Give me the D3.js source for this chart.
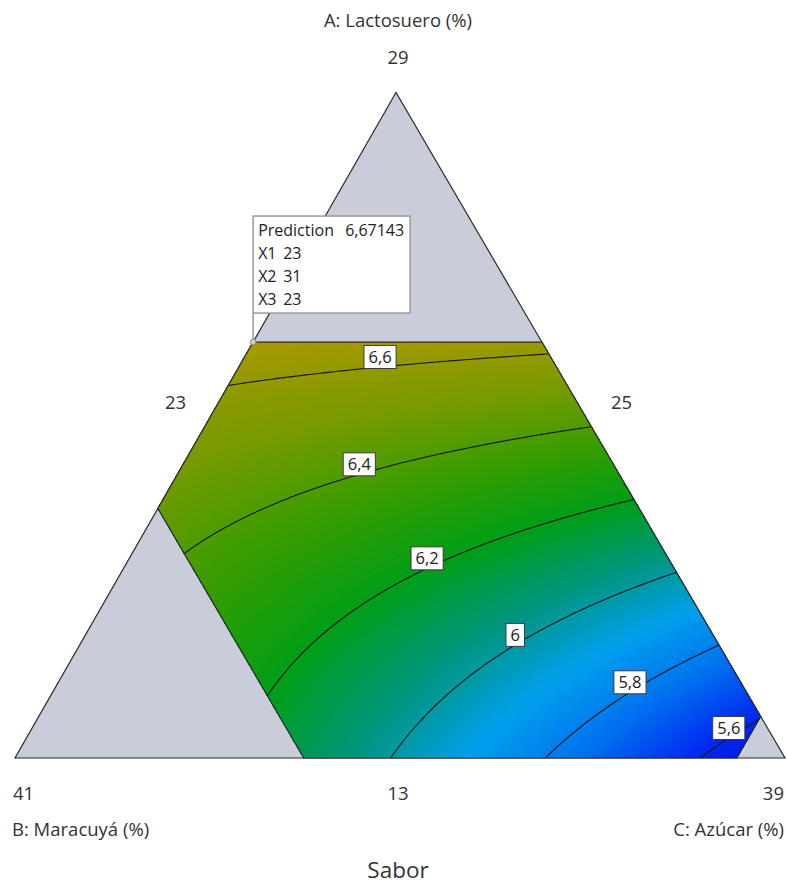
<!DOCTYPE html>
<html>
<head>
<meta charset="utf-8">
<script src="https://cdn.jsdelivr.net/npm/d3@7"></script>
<style>
  html, body { margin: 0; padding: 0; background: #fff; }
  svg { display: block; font-family: "Open Sans", "Noto Sans", sans-serif; }
</style>
</head>
<body>
<svg id="chart" width="787" height="884"></svg>
<script>
// ---- Mixture components (actual units, %) ----
const componentNames = ["A: Lactosuero (%)", "B: Maracuyá (%)", "C: Azúcar (%)"];
const componentLow = [13, 25, 23];
const componentHigh = [29, 41, 39];
// Upper limits that bound the experimental region
const componentLimit = [23, 35, 38];

// ---- Scheffé quadratic model in pseudo-components ----
const modelTerms = ["A", "B", "C", "AB", "AC", "BC"];
const modelCoefficients = [7.318, 6.486, 5.490, -1.4275, 0, 0];

// ---- Contours ----
const contourLevels = [5.6, 5.8, 6.0, 6.2, 6.4, 6.6];
// Lactosuero level (%) where each contour carries its label
const labelLactosuero = [13.48, 14.58, 15.72, 17.56, 19.82, 22.40];

// ---- Flagged point (X1, X2, X3) ----
const flagPoint = [23, 31, 23];
const flagNames = ["X1", "X2", "X3"];
const responseName = "Sabor";

// ------------------------------------------------------------------
const svg = d3.select("#chart");
const locale = d3.formatLocale({ decimal: ",", thousands: ".", grouping: [3], currency: ["", "€"] });
const fmtLevel = locale.format(".2~f");
const fmtPred = locale.format(".5f");
const fmtInt = locale.format("d");

const total = componentHigh[0] + componentLow[1] + componentLow[2];

// triangle vertices in pixels (A top, B bottom-left, C bottom-right)
const vA = [396, 92.5], vB = [15, 758], vC = [785, 758];

// actual -> pseudo-component scales
const pseudo = componentLow.map((lo, i) => d3.scaleLinear().domain([lo, componentHigh[i]]).range([0, 1]));

function projectPseudo(a, b, c) {
  return [a * vA[0] + b * vB[0] + c * vC[0], a * vA[1] + b * vB[1] + c * vC[1]];
}
function project(comp) {
  return projectPseudo(pseudo[0](comp[0]), pseudo[1](comp[1]), pseudo[2](comp[2]));
}
const det = (vB[1] - vC[1]) * (vA[0] - vC[0]) + (vC[0] - vB[0]) * (vA[1] - vC[1]);
function unproject(x, y) {
  const a = ((vB[1] - vC[1]) * (x - vC[0]) + (vC[0] - vB[0]) * (y - vC[1])) / det;
  const b = ((vC[1] - vA[1]) * (x - vC[0]) + (vA[0] - vC[0]) * (y - vC[1])) / det;
  return [a, b, 1 - a - b];
}
function model(a, b, c) {
  const k = modelCoefficients;
  return k[0] * a + k[1] * b + k[2] * c + k[3] * a * b + k[4] * a * c + k[5] * b * c;
}

// ---- colour ramp (blue = low, olive = high) ----
const color = d3.scaleLinear()
  .domain([5.50, 5.62, 5.75, 5.90, 6.05, 6.20, 6.35, 6.50, 6.70])
  .range(["rgb(0,12,225)", "rgb(0,45,240)", "rgb(0,110,240)", "rgb(0,160,236)",
          "rgb(0,150,125)", "rgb(0,158,22)", "rgb(55,157,0)", "rgb(118,155,0)", "rgb(176,152,0)"])
  .interpolate(d3.interpolateRgb)
  .clamp(true);

// ---- full simplex (grey) ----
svg.append("polygon")
  .attr("points", [vA, vB, vC].map(p => p.join(",")).join(" "))
  .attr("fill", "#c9cdd9")
  .attr("stroke", "#2a2a2a")
  .attr("stroke-width", 1.2);

// ---- feasible region from the constraints ----
const [lA, lB, lC] = componentLow;
const [mA, mB, mC] = componentLimit;
const feasible = [
  [mA, total - mA - lC, lC],
  [mA, lB, total - mA - lB],
  [total - lB - mC, lB, mC],
  [lA, total - lA - mC, mC],
  [lA, mB, total - lA - mB],
  [total - mB - lC, mB, lC]
].map(project);

svg.append("clipPath").attr("id", "region")
  .append("polygon").attr("points", feasible.map(p => p.join(",")).join(" "));

// ---- response grid ----
const gx0 = 140, gy0 = 330, step = 2;
const nx = Math.ceil((792 - gx0) / step) + 1, ny = Math.ceil((770 - gy0) / step) + 1;
const values = new Float64Array(nx * ny);
for (let j = 0; j < ny; j++) {
  for (let i = 0; i < nx; i++) {
    const [a, b, c] = unproject(gx0 + i * step, gy0 + j * step);
    values[j * nx + i] = model(a, b, c);
  }
}
const toPixels = d3.geoPath(d3.geoTransform({
  point(x, y) { this.stream.point(gx0 + (x - 0.5) * step, gy0 + (y - 0.5) * step); }
}));

const plot = svg.append("g").attr("clip-path", "url(#region)");

// smooth colour fill built from fine bands
const bandThresholds = d3.range(5.30, 6.90, 0.01);
const bands = d3.contours().size([nx, ny]).thresholds(bandThresholds)(values);
plot.append("g").selectAll("path").data(bands).join("path")
  .attr("d", toPixels)
  .attr("fill", d => color(d.value + 0.005))
  .attr("stroke", d => color(d.value + 0.005))
  .attr("stroke-width", 0.6);

// contour lines
const lines = d3.contours().size([nx, ny]).thresholds(contourLevels)(values);
plot.append("g").selectAll("path").data(lines).join("path")
  .attr("d", toPixels)
  .attr("fill", "none")
  .attr("stroke", "#151515")
  .attr("stroke-width", 1.1);

// outline of the feasible region
svg.append("polygon")
  .attr("points", feasible.map(p => p.join(",")).join(" "))
  .attr("fill", "none")
  .attr("stroke", "#2a2a2a")
  .attr("stroke-width", 1.2);

// ---- contour labels (box sits just above its line) ----
const labelG = svg.append("g").attr("font-size", 16.5).attr("fill", "#222");
contourLevels.forEach((lev, i) => {
  const a = pseudo[0](labelLactosuero[i]);
  // walk along the line of constant A to the composition that gives this level
  let lo = 0, hi = 1 - a;
  for (let k = 0; k < 60; k++) {
    const mid = (lo + hi) / 2;
    if (model(a, 1 - a - mid, mid) > lev) lo = mid; else hi = mid;
  }
  const c = (lo + hi) / 2;
  const [px, py] = projectPseudo(a, 1 - a - c, c);
  const g = labelG.append("g").attr("transform", `translate(${px},${py - 10})`);
  const rect = g.append("rect");
  const t = g.append("text").attr("text-anchor", "middle").attr("dy", "0.36em").text(fmtLevel(lev));
  const w = t.node().getComputedTextLength() + 9;
  rect.attr("x", -w / 2).attr("y", -11.5).attr("width", w).attr("height", 23)
    .attr("fill", "#fff").attr("stroke", "#3a3a3a").attr("stroke-width", 1);
});

// ---- flag ----
const fp = project(flagPoint);
const predicted = model(pseudo[0](flagPoint[0]), pseudo[1](flagPoint[1]), pseudo[2](flagPoint[2]));
const boxW = 157, boxH = 97;
const boxX = fp[0], boxY = fp[1] - 29 - boxH;
svg.append("line").attr("x1", fp[0]).attr("y1", fp[1]).attr("x2", boxX).attr("y2", boxY + boxH)
  .attr("stroke", "#9a9a9a").attr("stroke-width", 1.5);
svg.append("rect").attr("x", boxX).attr("y", boxY).attr("width", boxW).attr("height", boxH)
  .attr("fill", "#fff").attr("stroke", "#9a9a9a").attr("stroke-width", 1.5);
svg.append("circle").attr("cx", fp[0]).attr("cy", fp[1]).attr("r", 2.8)
  .attr("fill", "#d0d0d0").attr("stroke", "#8a8a8a").attr("stroke-width", 1);
const flagRows = [["Prediction", fmtPred(predicted)]].concat(flagNames.map((n, i) => [n, fmtInt(flagPoint[i])]));
const flagText = svg.append("g").attr("font-size", 16).attr("fill", "#222");
flagRows.forEach((r, i) => {
  const y = boxY + 20 + i * 23;
  flagText.append("text").attr("x", boxX + 5).attr("y", y).text(r[0]);
  flagText.append("text").attr("x", boxX + (i === 0 ? 92 : 30)).attr("y", y).text(r[1]);
});

// ---- axis texts ----
const axisText = svg.append("g").attr("font-size", 18.5).attr("fill", "#333");
axisText.append("text").attr("x", 398).attr("y", 27).attr("text-anchor", "middle").text(componentNames[0]);
axisText.append("text").attr("x", vA[0] + 2).attr("y", 64).attr("text-anchor", "middle").text(fmtInt(componentHigh[0]));
const midL = [(vA[0] + vB[0]) / 2, (vA[1] + vB[1]) / 2];
const midR = [(vA[0] + vC[0]) / 2, (vA[1] + vC[1]) / 2];
axisText.append("text").attr("x", midL[0] - 30).attr("y", midL[1] - 16).attr("text-anchor", "middle").text(fmtInt(componentLow[2]));
axisText.append("text").attr("x", midR[0] + 31).attr("y", midR[1] - 16).attr("text-anchor", "middle").text(fmtInt(componentLow[1]));
axisText.append("text").attr("x", vB[0] - 2).attr("y", 800).attr("text-anchor", "start").text(fmtInt(componentHigh[1]));
axisText.append("text").attr("x", (vB[0] + vC[0]) / 2 - 2).attr("y", 800).attr("text-anchor", "middle").text(fmtInt(componentLow[0]));
axisText.append("text").attr("x", vC[0] - 1).attr("y", 800).attr("text-anchor", "end").text(fmtInt(componentHigh[2]));
axisText.append("text").attr("x", 12).attr("y", 836).attr("text-anchor", "start").text(componentNames[1]);
axisText.append("text").attr("x", 784).attr("y", 836).attr("text-anchor", "end").text(componentNames[2]);

svg.append("text").attr("x", 398).attr("y", 878).attr("text-anchor", "middle")
  .attr("font-size", 22.5).attr("fill", "#333").text(responseName);
</script>
</body>
</html>
